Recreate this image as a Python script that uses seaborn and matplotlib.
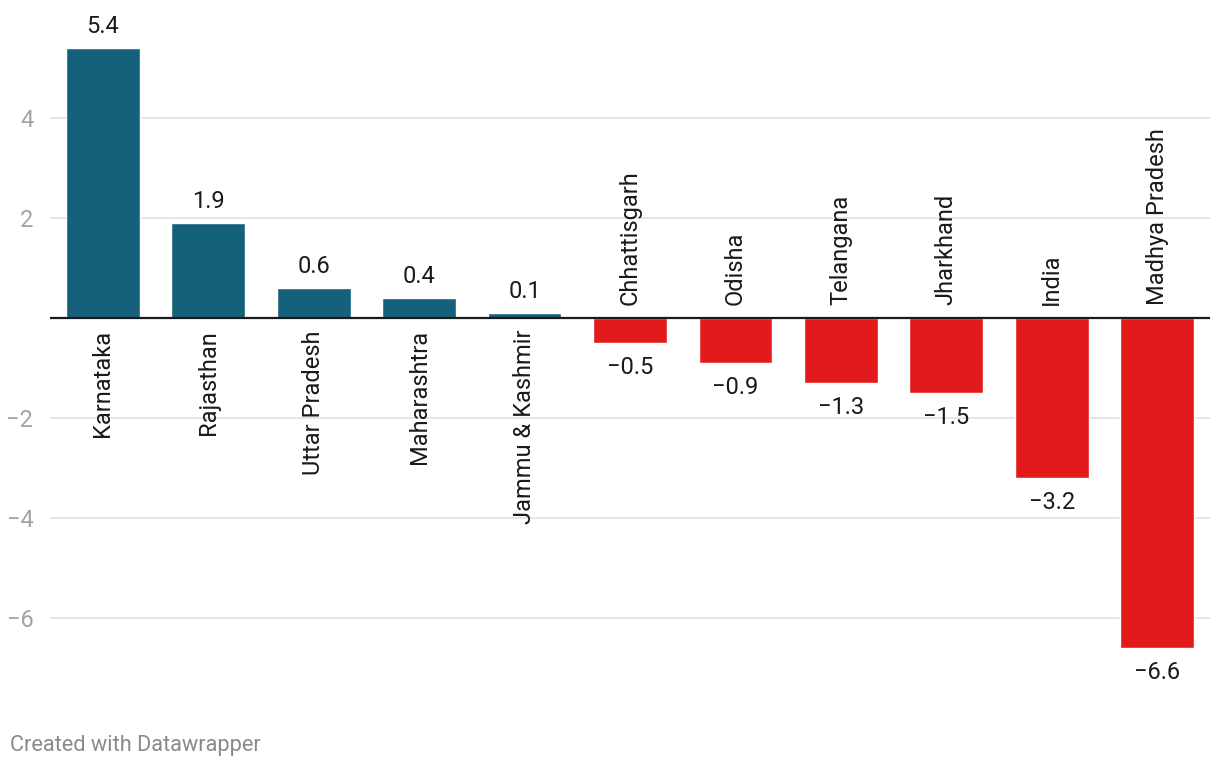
import matplotlib
matplotlib.use("Agg")
import matplotlib.pyplot as plt
import seaborn as sns
import pandas as pd

states = ["Karnataka", "Rajasthan", "Uttar Pradesh", "Maharashtra", "Jammu & Kashmir",
          "Chhattisgarh", "Odisha", "Telangana", "Jharkhand", "India", "Madhya Pradesh"]
values = [5.4, 1.9, 0.6, 0.4, 0.1, -0.5, -0.9, -1.3, -1.5, -3.2, -6.6]
yticks = [-6, -4, -2, 2, 4]

POS = "#15607a"
NEG = "#e31a1c"

sns.set_theme(style="white")
plt.rcParams["font.family"] = ["Roboto", "DejaVu Sans"]

df = pd.DataFrame({"state": states, "value": values})
palette = {s: (POS if v >= 0 else NEG) for s, v in zip(states, values)}

fig = plt.figure(figsize=(12.2, 7.68), dpi=100)
ax = fig.add_axes([50 / 1220, 68 / 768, 1160 / 1220, 682 / 768])

sns.barplot(data=df, x="state", y="value", hue="state", palette=palette,
            legend=False, width=0.7, saturation=1, ax=ax, zorder=3)

ax.set_xlim(-0.5, len(states) - 0.5)
ax.set_ylim(-7.64, 6.0)
ax.set_yticks(yticks)
ax.set_yticklabels([("\u2212" + str(abs(t))) if t < 0 else str(t) for t in yticks])
ax.tick_params(axis="y", length=0, pad=12, labelsize=17, labelcolor="#a3a3a3")
ax.set_xticks([])
ax.set_xlabel("")
ax.set_ylabel("")
for sp in ax.spines.values():
    sp.set_visible(False)

for t in yticks:
    ax.axhline(t, color="#e4e4e4", lw=1.3, zorder=1)
ax.axhline(0, color="#1a1a1a", lw=1.6, zorder=4)

for i, (s, v) in enumerate(zip(states, values)):
    lab = f"{v:.1f}".replace("-", "\u2212")
    if v >= 0:
        ax.annotate(lab, (i, v), xytext=(0, 15), textcoords="offset pixels",
                    ha="center", va="baseline", fontsize=17, color="#1a1a1a")
        ax.annotate(s, (i, 0), xytext=(0, -12), textcoords="offset pixels",
                    ha="center", va="top", rotation=90, fontsize=17, color="#1a1a1a")
    else:
        ax.annotate(lab, (i, v), xytext=(0, -13), textcoords="offset pixels",
                    ha="center", va="top", fontsize=17, color="#1a1a1a")
        ax.annotate(s, (i, 0), xytext=(0, 13), textcoords="offset pixels",
                    ha="center", va="bottom", rotation=90, fontsize=17, color="#1a1a1a")

fig.text(10 / 1220, 1 - 745 / 768, "Created with Datawrapper", ha="left", va="center",
         fontsize=15.7, color="#8a8a8a")

fig.savefig("out.png", dpi=100, facecolor="white")
